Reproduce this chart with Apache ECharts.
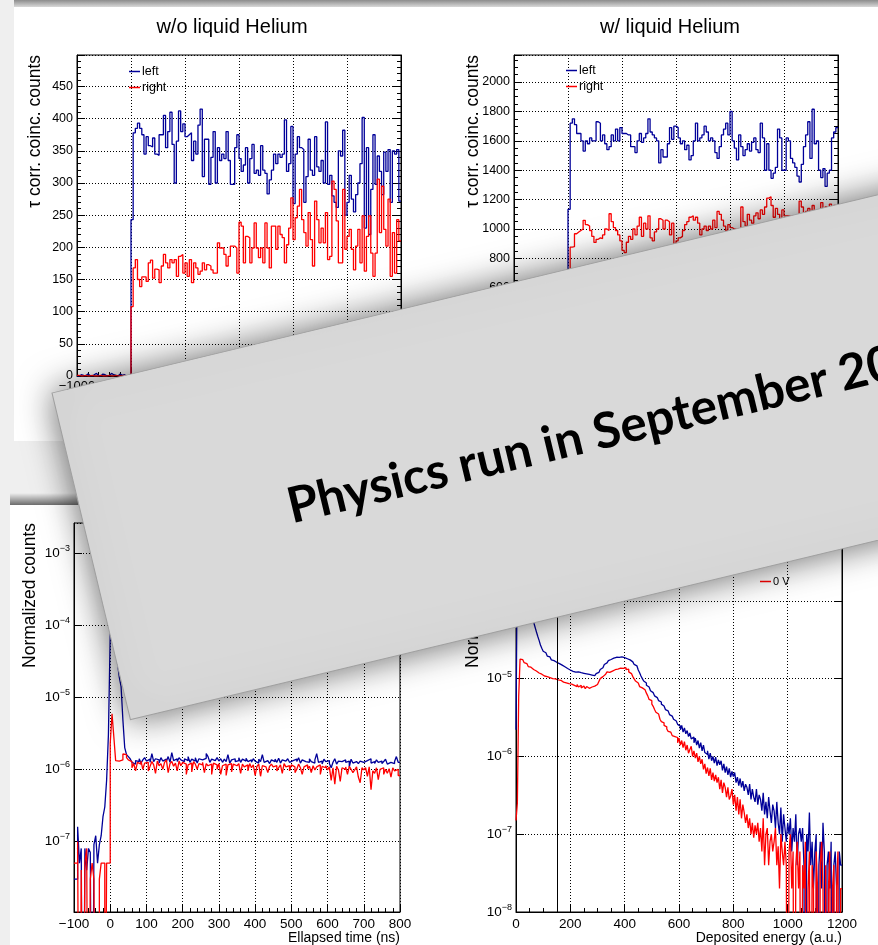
<!DOCTYPE html>
<html><head><meta charset="utf-8">
<script src="https://cdn.jsdelivr.net/npm/echarts@6/dist/echarts.min.js"></script>
<style>
html,body{margin:0;padding:0;background:#efefef;}
#wrap{position:relative;width:878px;height:945px;overflow:hidden;background:#efefef;}
.card{position:absolute;background:#fff;}
#chart{position:absolute;left:0;top:0;width:878px;height:945px;}
</style></head>
<body><div id="wrap">
<div style="position:absolute;left:14px;top:0;width:864px;height:7px;background:linear-gradient(#8c8c8c,#d8d8d8);"></div>
<div class="card" style="left:14px;top:7px;width:864px;height:434px;"></div>
<div style="position:absolute;left:10px;top:493px;width:868px;height:12px;background:linear-gradient(rgba(0,0,0,0),rgba(0,0,0,0.55));"></div>
<div class="card" style="left:10px;top:505px;width:868px;height:440px;"></div>
<div id="chart"></div></div>
<script>
// ---------- DATA ----------
const titles = ['w/o liquid Helium', 'w/ liquid Helium'];
const yTitleTop = '\u03c4 corr. coinc. counts';
const yTitleBottom = 'Normalized counts';
const xTitleBL = 'Ellapsed time (ns)';
const xTitleBR = 'Deposited energy (a.u.)';
const bannerText = 'Physics run in September 20';
const legendTop = ['left', 'right'];
const legendBR = ['0 V'];

// top panels: bins of 40 ns from -1000
const tStart = -1000, tBin = 40;
const tlLeft = [0,2,1,0,3,1,0,2,4,1,0,3,2,0,1,4,2,1,0,3,1,2,0,1,2,
243,378,385,393,385,375,345,372,358,356,
370,345,343,375,375,405,355,380,410,360,
300,365,412,380,392,372,375,378,335,365,
345,390,415,310,368,368,298,340,380,300,
355,335,345,338,380,335,298,298,355,375,
338,318,328,355,300,338,360,315,320,312,
358,320,315,283,305,320,345,330,345,340,
345,398,318,330,388,268,345,372,355,352,
270,310,368,320,312,372,325,318,335,300,
395,298,312,280,270,262,350,342,382,250,
270,312,275,255,282,300,330,402,230,355,
220,290,375,298,342,318,282,348,318,352,
270,350,345,352,272];
const tlRight = [1,0,0,1,0,0,1,0,0,0,1,0,0,0,1,0,0,1,0,0,0,1,0,0,1,
108,168,181,150,139,154,154,
147,176,180,152,166,165,145,171,189,176,168,181,
176,181,155,186,189,160,176,155,181,145,176,168,158,
163,176,165,173,171,165,160,160,207,199,199,189,
171,186,202,202,199,160,239,233,176,217,215,176,199,
238,199,184,199,176,238,199,168,233,233,197,233,
220,215,176,204,230,277,212,246,264,290,243,223,202,
254,212,171,272,243,207,230,207,254,181,186,303,
290,241,176,176,290,197,217,228,197,165,202,228,176,
249,163,217,249,191,155,191,306,223,295,228,202,
275,155,223,160,243,210];
const trLeft = [2,0,3,1,0,4,2,0,1,3,0,2,5,1,0,2,3,1,0,2,4,1,0,2,1,
1134,1720,1750,1710,1650,1650,1600,1530,
1600,1580,1620,1600,1600,1730,1720,1600,1640,1580,1540,
1560,1640,1600,1680,1600,1690,1650,1650,1640,1640,1560,1560,1520,
1600,1650,1590,1620,1650,1750,1660,1640,1620,1600,1450,1540,
1490,1490,1580,1690,1610,1700,1690,1620,1580,1600,1540,1570,1470,
1500,1600,1720,1600,1620,1640,1700,1660,1600,1620,1600,1520,1480,
1560,1640,1680,1720,1640,1800,1600,1550,1470,1640,1560,1500,
1540,1580,1530,1590,1620,1540,1520,1720,1620,1400,1580,1400,
1345,1380,1420,1680,1620,1400,1400,1620,1600,1480,1450,1420,1360,1320,
1440,1560,1640,1730,1480,1815,1580,1600,1400,1350,1410,1290,1380,1400,1620,1660,1690];
const trRight = [1,0,0,2,0,1,0,0,1,0,0,1,0,2,0,0,1,0,0,1,0,0,2,0,1,
700,877,880,968,980,990,1000,1059,
1030,1020,990,950,909,930,940,935,960,1000,990,
1104,1050,1010,990,960,920,855,840,910,950,930,1000,960,
1020,1080,950,1040,1000,1090,940,920,980,1000,1070,1060,
1000,1060,1050,960,1040,900,920,940,950,990,1030,1050,1080,
1090,1060,1080,1040,960,1000,1020,990,1020,1000,1060,1010,
1120,1100,1060,1020,990,1030,1010,1000,1000,1000,1000,1150,1050,
1020,1100,1060,1040,1090,1110,1070,1130,1100,1150,1210,1220,
1160,1080,1140,1100,1060,1130,1090,1090,1090,1090,1090,1090,1080,1190,
1150,1080,1120,1140,1100,1160,1120,1130,1090,1180,1120,1150,1100,1170,1130,1160,1120];

// bottom-left: bins of 5 ns from -100, values in units of 1e-8
const blStart = -100, blBin = 5, blUnit = 1e-8;
const blLeft = [3,3,16,5,8,0,8,4,8,7,0,9,12,5,9,12,22,30,70,300,
7500,15000,9000,5000,3000,1900,1400,480,200,160,
150,140,125,118,132,128,140,122,135,145,
130,138,125,165,128,140,135,122,145,130,
138,128,150,125,170,132,140,128,145,135,
128,140,132,150,125,138,130,145,122,140,
135,128,142,165,150,125,138,132,128,145,
130,140,125,138,128,160,122,135,140,128,
132,145,125,138,130,142,128,135,125,140,
130,122,138,128,160,125,132,140,120,135,
128,138,125,142,122,135,130,128,140,125,
132,125,138,128,145,122,135,128,130,125,
140,128,122,135,165,125,130,118,138,128,
132,120,105,125,140,118,130,128,122,135,
125,130,108,138,122,128,135,120,130,125,
118,132,125,140,122,128,120,135,125,130,
120,128,138,118,125,132,120,128,150,125];
const blRight = [5,5,10,0,4,0,5,8,0,3,5,3,0,0,3,5,5,0,5,5,
230,590,280,132,130,125,135,163,160,145,
135,128,105,120,95,125,118,130,100,122,
125,95,110,128,115,88,130,112,120,100,
125,135,90,120,128,110,122,95,130,112,
125,118,85,115,122,92,128,118,100,120,
115,125,90,120,112,118,85,122,115,100,
120,85,112,118,82,115,120,92,118,112,
115,120,88,118,108,115,95,120,105,115,
82,110,118,80,112,108,115,90,110,118,
108,112,95,105,115,88,120,108,112,95,
115,108,90,100,118,105,85,108,115,102,
110,90,112,98,108,115,85,110,105,112,
98,108,70,105,62,110,98,68,105,100,
108,85,110,100,90,98,108,78,65,105,
98,105,80,108,52,95,88,105,72,100,
105,85,100,88,102,78,105,95,100,82];

// bottom-right: bins of 5 a.u. from 0, values in units of 1e-8
const brStart = 0, brBin = 5, brUnit = 1e-8;
const brCut = 150;
const brBlue = [220,50000,90000,60000,40000,28000,20000,15000,11000,9000,
7500,6500,5800,5300,4600,4000,3500,3100,2700,2450,
2250,2150,2050,1950,1900,1800,1740,1700,1650,1620,
1580,1560,1500,1490,1440,1420,1360,1350,1300,1290,
1270,1240,1250,1210,1190,1220,1170,1190,1150,1170,
1120,1150,1100,1130,1080,1110,1070,1090,1110,1160,
1200,1250,1310,1380,1450,1520,1590,1650,1700,1760,
1790,1830,1780,1880,1900,1870,1940,1900,1920,1860,
1870,1800,1760,1740,1700,1640,1560,1520,1460,1380,
1290,1190,1080,1000,930,880,820,780,740,700,
660,630,600,570,545,520,500,470,445,425,
400,385,365,345,330,315,300,285,270,258,
245,220,250,205,232,195,215,180,200,168,
178,150,172,140,160,128,150,118,140,112,
106,118,92,110,88,100,82,98,76,90,
78,88,66,80,62,74,58,70,54,64,
55,62,46,54,42,52,40,48,36,44,
40,32,44,28,38,30,26,38,24,32,
28,20,34,18,26,16,30,20,14,24,
20,12,26,14,10,22,8,18,12,8,
14,10,16,6,12,8,18,4,10,12,
8,12,4,0,10,6,19,4,8,2,
6,10,0,4,8,2,14,6,0,4,
6,2,8,0,4,6,2,0,6,4];
const brRed = [15,25,600,1780,1750,1650,1600,1560,1480,1430,
1400,1330,1310,1260,1250,1200,1180,1190,1140,1120,
1080,1050,1060,1000,1030,980,1000,960,990,940,
960,930,950,920,900,940,880,910,860,900,
850,880,820,860,790,840,780,820,760,800,
770,740,790,750,730,780,760,800,780,840,
880,920,1000,1060,1120,1140,1180,1220,1200,1260,
1250,1220,1300,1260,1320,1280,1360,1300,1350,1410,
1380,1300,1320,1220,1160,1100,1060,990,
930,880,840,790,760,730,720,700,650,600,
540,520,470,440,400,370,350,330,300,280,
270,250,240,225,210,205,200,185,180,170,
175,150,172,140,160,130,155,120,140,110,
123,135,100,118,95,110,85,100,80,92,
68,80,60,72,56,70,50,62,48,58,
46,54,38,50,34,46,40,30,40,28,
31,38,24,32,20,30,18,28,16,24,
19,14,18,12,16,10,14,9,13,10,
14,8,12,6,16,4,10,12,4,8,
10,6,8,12,4,7,2,10,6,4,
8,4,0,6,10,2,6,0,4,8,
2,6,0,4,2,8,0,2,6,0,
4,2,0,6,2,0,4,8,2,0,
4,0,2,6,0,2,4,0,2,6,
0,2];

// ---------- BUILD ----------
const FF = '"Liberation Sans", Arial, Helvetica, sans-serif';
const BLUE = '#000099', RED = '#ff0000';

function hist(values, start, width, unit, isLog) {
  const pts = values.map((v, i) => [start + i * width, isLog ? (v > 0 ? v * unit : 1e-12) : v * unit]);
  pts.push([start + values.length * width, pts[pts.length - 1][1]]);
  return pts;
}
const plain = v => String(v).replace('-', '\u2212');

function xAx(gi, min, max, interval, minorSplit, fs, margin) {
  return {type: 'value', gridIndex: gi, min, max, interval,
    axisLine: {show: true, onZero: false, lineStyle: {color: '#000', width: 1}},
    axisTick: {show: true, inside: true, length: 8, lineStyle: {color: '#000'}},
    minorTick: {show: true, splitNumber: minorSplit, length: 4, lineStyle: {color: '#000'}},
    splitLine: {show: true, lineStyle: {color: '#000', type: [1, 2], width: 1}},
    axisLabel: {color: '#000', fontFamily: FF, fontSize: fs, margin, formatter: plain}};
}
function yAx(gi, min, max, interval, minorSplit, fs, right) {
  return {type: 'value', gridIndex: gi, min, max, interval, position: right ? 'right' : 'left',
    axisLine: {show: true, onZero: false, lineStyle: {color: '#000', width: 1}},
    axisTick: {show: true, inside: true, length: 8, lineStyle: {color: '#000'}},
    minorTick: {show: true, splitNumber: minorSplit, length: 4, lineStyle: {color: '#000'}},
    splitLine: {show: !right, lineStyle: {color: '#000', type: [1, 2], width: 1}},
    axisLabel: {show: !right, color: '#000', fontFamily: FF, fontSize: fs, margin: 4, showMaxLabel: false, formatter: plain}};
}
function logAx(gi, min, max, fs, showMin, right) {
  return {type: 'log', logBase: 10, gridIndex: gi, min, max, position: right ? 'right' : 'left',
    axisLine: {show: true, onZero: false, lineStyle: {color: '#000', width: 1}},
    axisTick: {show: true, inside: true, length: 8, lineStyle: {color: '#000'}},
    splitLine: {show: !right, lineStyle: {color: '#000', type: [1, 2], width: 1}},
    axisLabel: {show: !right, margin: 4, showMinLabel: showMin, showMaxLabel: false,
      formatter: v => '{b|10}{s|\u2212' + Math.round(-Math.log10(v)) + '}',
      rich: {b: {fontSize: fs, fontFamily: FF, color: '#000'},
             s: {fontSize: Math.round(fs * 0.68), fontFamily: FF, color: '#000', padding: [0, 0, 9, 0]}}}};
}
function line(name, data, xi, yi, color) {
  const s = {type: 'line', xAxisIndex: xi, yAxisIndex: yi, data, step: 'end', symbol: 'none',
    color, lineStyle: {color, width: 1.3}, clip: true, silent: true, animation: false};
  if (name) s.name = name;
  return s;
}

const brRedSeries = line(legendBR[0], hist(brRed, brStart, brBin, brUnit, true), 3, 5, RED);
brRedSeries.markLine = {silent: true, symbol: 'none', label: {show: false},
  lineStyle: {color: '#000', type: 'solid', width: 1}, data: [{xAxis: brCut}]};

const legendBase = {orient: 'vertical', icon: 'rect', itemWidth: 11, itemHeight: 1.5, itemGap: 3, padding: 0,
  textStyle: {fontSize: 12.5, fontFamily: FF, color: '#000', padding: [0, 0, 0, -3]}};

const option = {
  animation: false,
  grid: [
    {left: 77, top: 55, width: 324, height: 321, show: true, borderColor: '#000', borderWidth: 1},
    {left: 514, top: 55, width: 324, height: 321, show: true, borderColor: '#000', borderWidth: 1},
    {left: 74, top: 523, width: 326, height: 389, show: true, borderColor: '#000', borderWidth: 1},
    {left: 516, top: 523, width: 326, height: 389, show: true, borderColor: '#000', borderWidth: 1}
  ],
  xAxis: [
    xAx(0, -1000, 5000, 1000, 5, 13, 4),
    xAx(1, -1000, 5000, 1000, 5, 13, 4),
    xAx(2, -100, 800, 100, 5, 13.5, 5),
    xAx(3, 0, 1200, 200, 4, 13.5, 5)
  ],
  yAxis: [
    yAx(0, 0, 499, 50, 5, 12.5, false),
    yAx(0, 0, 499, 50, 5, 12.5, true),
    yAx(1, 0, 2184, 200, 4, 12.5, false),
    yAx(1, 0, 2184, 200, 4, 12.5, true),
    logAx(2, 1.05e-8, 2.6e-3, 13.5, false, false),
    logAx(3, 1e-8, 1e-3, 13.5, true, false),
    logAx(3, 1e-8, 1e-3, 13.5, true, true)
  ],
  legend: [
    Object.assign({}, legendBase, {data: legendTop, left: 129, top: 65}),
    Object.assign({}, legendBase, {data: legendTop, left: 566, top: 64}),
    Object.assign({}, legendBase, {data: legendBR, left: 760, top: 576, textStyle: {fontSize: 11, fontFamily: FF, color: '#000', padding: [0, 0, 0, -3]}})
  ],
  series: [
    line(legendTop[0], hist(tlLeft, tStart, tBin, 1, false), 0, 0, BLUE),
    line(legendTop[1], hist(tlRight, tStart, tBin, 1, false), 0, 0, RED),
    line(legendTop[0], hist(trLeft, tStart, tBin, 1, false), 1, 2, BLUE),
    line(legendTop[1], hist(trRight, tStart, tBin, 1, false), 1, 2, RED),
    line(legendTop[0], hist(blLeft, blStart, blBin, blUnit, true), 2, 4, BLUE),
    line(legendTop[1], hist(blRight, blStart, blBin, blUnit, true), 2, 4, RED),
    line(null, hist(brBlue, brStart, brBin, brUnit, true), 3, 5, BLUE),
    brRedSeries
  ],
  graphic: [
    {type: 'text', x: 232, y: 27, z: 50, style: {text: titles[0], fontSize: 20, fontFamily: FF, fill: '#000', align: 'center', verticalAlign: 'middle'}},
    {type: 'text', x: 670, y: 27, z: 50, style: {text: titles[1], fontSize: 20, fontFamily: FF, fill: '#000', align: 'center', verticalAlign: 'middle'}},
    {type: 'text', x: 35, y: 55, rotation: Math.PI / 2, z: 50, style: {text: yTitleTop, fontSize: 17.5, fontFamily: FF, fill: '#000', align: 'right', verticalAlign: 'middle'}},
    {type: 'text', x: 473, y: 55, rotation: Math.PI / 2, z: 50, style: {text: yTitleTop, fontSize: 17.5, fontFamily: FF, fill: '#000', align: 'right', verticalAlign: 'middle'}},
    {type: 'text', x: 30, y: 523, rotation: Math.PI / 2, z: 50, style: {text: yTitleBottom, fontSize: 17.5, fontFamily: FF, fill: '#000', align: 'right', verticalAlign: 'middle'}},
    {type: 'text', x: 473, y: 523, rotation: Math.PI / 2, z: 50, style: {text: yTitleBottom, fontSize: 17.5, fontFamily: FF, fill: '#000', align: 'right', verticalAlign: 'middle'}},
    {type: 'text', x: 400, y: 938, z: 50, style: {text: xTitleBL, fontSize: 14, fontFamily: FF, fill: '#000', align: 'right', verticalAlign: 'middle'}},
    {type: 'text', x: 842, y: 938, z: 50, style: {text: xTitleBR, fontSize: 14, fontFamily: FF, fill: '#000', align: 'right', verticalAlign: 'middle'}},
    {type: 'group', x: 52, y: 393, rotation: 0.2356, z: 100, children: [
      {type: 'rect', z: 100, shape: {x: 0, y: 0, width: 1100, height: 336},
        style: {fill: '#d9d9d9', stroke: '#a0a0a0', lineWidth: 1, shadowBlur: 36, shadowColor: 'rgba(0,0,0,0.6)'}},
      {type: 'text', z: 101, x: 203, y: 167,
        style: {text: bannerText, fontSize: 49.5, fontWeight: 'bold', fontFamily: 'Lato, "Open Sans", sans-serif', fill: '#000', align: 'left', verticalAlign: 'middle'}}
    ]}
  ]
};
const chart = echarts.init(document.getElementById('chart'), null, {renderer: 'canvas'});
chart.setOption(option);
</script>
</body></html>
